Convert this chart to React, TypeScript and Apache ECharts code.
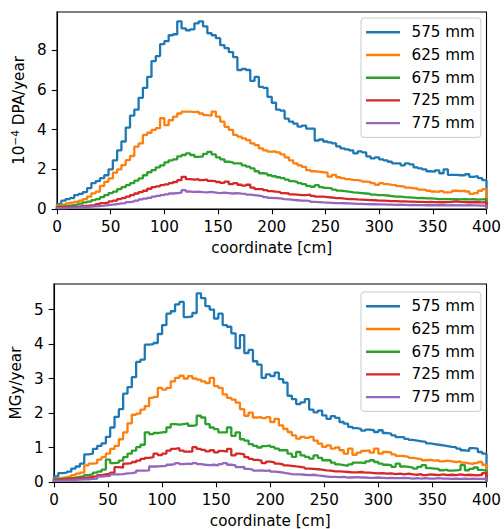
import React, { useEffect, useRef } from "react";
import * as echarts from "echarts";

const BIN_WIDTH = 4;
const X_MIN = 0;
const X_MAX = 400;
const seriesNames = ["575 mm", "625 mm", "675 mm", "725 mm", "775 mm"];
const colors = ["#1f77b4", "#ff7f0e", "#2ca02c", "#d62728", "#9467bd"];
const xTicks = [0, 50, 100, 150, 200, 250, 300, 350, 400];
const dpaTicks = [0, 2, 4, 6, 8];
const mgyTicks = [0, 1, 2, 3, 4, 5];
const DPA_MAX = 9.92;
const MGY_MAX = 5.74;

// Top panel: 10^-4 DPA/year, 4 cm bins
const dpa575 = [0.25, 0.42, 0.5, 0.55, 0.7, 0.76, 0.85, 1.05, 1.3, 1.4,
  1.55, 1.7, 2.0, 2.45, 2.95, 3.4, 4.1, 4.7, 5.0, 5.6,
  6.1, 6.65, 7.45, 7.7, 8.3, 8.45, 8.75, 8.8, 9.45, 9.1,
  9.0, 9.05, 9.35, 9.45, 9.2, 8.85, 8.75, 8.6, 8.25, 8.1,
  7.9, 7.65, 7.0, 7.05, 7.0, 6.45, 6.65, 6.15, 6.1, 5.65,
  5.35, 5.0, 4.95, 4.55, 4.4, 4.3, 4.15, 4.2, 4.05, 4.05,
  3.45, 3.5, 3.4, 3.35, 3.3, 3.15, 3.05, 3.0, 2.95, 2.8,
  2.9, 2.85, 2.65, 2.55, 2.6, 2.5, 2.45, 2.38, 2.3, 2.3,
  2.2, 2.3, 2.25, 2.1, 2.05, 2.0, 1.9, 1.88, 1.95, 1.8,
  2.0, 1.72, 1.72, 1.7, 1.7, 1.75, 1.62, 1.65, 1.55, 1.45];
const dpa625 = [0.18, 0.22, 0.28, 0.32, 0.36, 0.42, 0.5, 0.62, 0.79, 0.87,
  1.16, 1.37, 1.54, 1.83, 2.0, 2.21, 2.46, 2.67, 3.14, 3.3,
  3.73, 3.84, 3.98, 4.07, 4.57, 4.22, 4.47, 4.65, 4.81, 4.9,
  4.9, 4.88, 4.9, 4.81, 4.73, 4.7, 4.9, 4.65, 4.4, 4.14,
  3.98, 3.73, 3.64, 3.56, 3.47, 3.3, 3.22, 3.05, 2.95, 2.89,
  2.9, 2.85, 2.75, 2.6, 2.45, 2.3, 2.2, 2.12, 1.96, 1.9,
  1.88, 1.85, 1.83, 1.63, 1.72, 1.6, 1.55, 1.5, 1.47, 1.45,
  1.42, 1.38, 1.36, 1.3, 1.22, 1.3, 1.25, 1.22, 1.2, 1.15,
  1.12, 1.08, 1.05, 1.02, 0.98, 0.96, 0.92, 0.88, 0.86, 0.9,
  0.84, 0.85, 0.92, 0.9, 0.93, 0.88, 0.76, 0.8, 0.92, 1.0];
const dpa675 = [0.12, 0.15, 0.17, 0.2, 0.23, 0.27, 0.33, 0.37, 0.45, 0.5,
  0.6, 0.7, 0.8, 0.87, 1.0, 1.1, 1.2, 1.3, 1.43, 1.54,
  1.7, 1.85, 1.96, 2.1, 2.2, 2.35, 2.45, 2.5, 2.65, 2.72,
  2.8, 2.72, 2.62, 2.65, 2.78, 2.88, 2.75, 2.6, 2.5, 2.38,
  2.35, 2.3, 2.3, 2.2, 2.13, 2.05, 1.9, 1.8, 1.78, 1.7,
  1.65, 1.6, 1.55, 1.48, 1.4, 1.37, 1.3, 1.25, 1.16, 1.12,
  1.2, 1.1, 1.06, 1.04, 0.98, 0.93, 0.9, 0.87, 0.84, 0.82,
  0.8, 0.78, 0.76, 0.72, 0.7, 0.7, 0.68, 0.65, 0.62, 0.62,
  0.6, 0.59, 0.57, 0.55, 0.56, 0.53, 0.54, 0.52, 0.5, 0.5,
  0.5, 0.49, 0.5, 0.48, 0.49, 0.48, 0.49, 0.47, 0.48, 0.49];
const dpa725 = [0.08, 0.09, 0.1, 0.11, 0.12, 0.14, 0.16, 0.18, 0.2, 0.25,
  0.3, 0.32, 0.38, 0.42, 0.5, 0.55, 0.62, 0.7, 0.78, 0.85,
  0.92, 1.02, 1.1, 1.14, 1.2, 1.24, 1.3, 1.36, 1.45, 1.62,
  1.5, 1.48, 1.5, 1.45, 1.48, 1.42, 1.4, 1.36, 1.32, 1.38,
  1.25, 1.3, 1.22, 1.18, 1.22, 1.08, 1.0, 1.0, 0.95, 0.9,
  0.87, 0.85, 0.8, 0.78, 0.74, 0.72, 0.7, 0.7, 0.72, 0.66,
  0.62, 0.62, 0.6, 0.58, 0.55, 0.55, 0.52, 0.5, 0.5, 0.48,
  0.47, 0.46, 0.45, 0.44, 0.42, 0.42, 0.41, 0.4, 0.4, 0.38,
  0.38, 0.37, 0.37, 0.36, 0.36, 0.35, 0.36, 0.35, 0.34, 0.34,
  0.35, 0.36, 0.38, 0.36, 0.35, 0.34, 0.35, 0.34, 0.33, 0.35];
const dpa775 = [0.04, 0.05, 0.06, 0.07, 0.08, 0.09, 0.1, 0.12, 0.13, 0.15,
  0.17, 0.2, 0.22, 0.25, 0.28, 0.3, 0.35, 0.38, 0.42, 0.48,
  0.52, 0.56, 0.62, 0.66, 0.7, 0.74, 0.78, 0.8, 0.82, 0.95,
  0.88, 0.86, 0.88, 0.85, 0.84, 0.86, 0.83, 0.8, 0.82, 0.8,
  0.78, 0.8, 0.77, 0.76, 0.72, 0.7, 0.67, 0.64, 0.6, 0.56,
  0.55, 0.53, 0.5, 0.48, 0.46, 0.44, 0.42, 0.42, 0.4, 0.36,
  0.35, 0.33, 0.32, 0.31, 0.3, 0.3, 0.29, 0.28, 0.27, 0.26,
  0.26, 0.25, 0.24, 0.24, 0.23, 0.23, 0.22, 0.22, 0.21, 0.22,
  0.21, 0.2, 0.21, 0.2, 0.2, 0.19, 0.2, 0.19, 0.2, 0.19,
  0.18, 0.19, 0.18, 0.19, 0.18, 0.19, 0.18, 0.18, 0.17, 0.18];

// Bottom panel: MGy/year, 4 cm bins
const mgy575 = [0.16, 0.26, 0.27, 0.3, 0.39, 0.45, 0.53, 0.8, 0.82, 0.96,
  1.05, 1.12, 1.31, 1.58, 1.89, 2.11, 2.56, 2.75, 3.04, 3.48,
  3.55, 3.98, 4.0, 4.03, 4.29, 4.55, 4.88, 4.95, 5.15, 5.22,
  4.78, 4.8, 4.9, 5.47, 5.33, 5.1, 5.0, 4.74, 4.88, 4.55,
  4.5, 4.31, 3.88, 4.26, 3.74, 3.83, 3.5, 3.4, 3.02, 3.12,
  3.07, 3.17, 2.98, 2.88, 2.5, 2.4, 2.26, 2.31, 2.4, 2.1,
  2.02, 2.07, 1.93, 1.83, 1.91, 1.86, 1.74, 1.69, 1.6, 1.56,
  1.54, 1.49, 1.52, 1.5, 1.45, 1.5, 1.42, 1.4, 1.35, 1.3,
  1.3, 1.25, 1.22, 1.2, 1.18, 1.16, 1.12, 1.1, 1.08, 1.06,
  1.04, 1.02, 1.01, 0.97, 0.92, 0.9, 0.98, 0.97, 0.87, 0.82];
const mgy625 = [0.1, 0.12, 0.14, 0.16, 0.2, 0.24, 0.27, 0.48, 0.53, 0.55,
  0.65, 0.72, 0.82, 0.96, 1.05, 1.24, 1.44, 1.7, 1.95, 1.98,
  2.1, 2.2, 2.44, 2.47, 2.73, 2.68, 2.73, 2.92, 3.02, 3.08,
  3.0, 3.07, 3.0, 2.97, 2.92, 2.87, 3.02, 2.78, 2.73, 2.54,
  2.44, 2.39, 2.3, 2.11, 1.92, 2.01, 1.87, 1.88, 1.85, 1.88,
  1.74, 1.83, 1.64, 1.54, 1.45, 1.35, 1.26, 1.31, 1.28, 1.31,
  1.2, 1.11, 1.02, 1.06, 0.97, 1.0, 0.92, 0.82, 0.97, 0.79,
  0.85, 0.9, 0.92, 0.85, 0.97, 0.82, 0.87, 0.86, 0.8, 0.76,
  0.75, 0.73, 0.7, 0.68, 0.66, 0.63, 0.64, 0.62, 0.63, 0.6,
  0.62, 0.6, 0.58, 0.6, 0.56, 0.54, 0.52, 0.55, 0.58, 0.5];
const mgy675 = [0.08, 0.09, 0.1, 0.11, 0.13, 0.15, 0.17, 0.2, 0.22, 0.27,
  0.3, 0.36, 0.65, 0.55, 0.56, 0.62, 0.72, 0.82, 0.91, 1.01,
  1.08, 1.44, 1.39, 1.42, 1.44, 1.45, 1.58, 1.68, 1.66, 1.68,
  1.7, 1.63, 1.65, 1.92, 1.87, 1.68, 1.58, 1.53, 1.44, 1.44,
  1.58, 1.34, 1.44, 1.24, 1.2, 1.1, 1.05, 1.0, 1.04, 1.06,
  1.02, 0.97, 0.92, 0.92, 0.82, 0.73, 0.87, 0.77, 0.73, 0.68,
  0.77, 0.7, 0.63, 0.63, 0.56, 0.51, 0.49, 0.47, 0.51, 0.56,
  0.56, 0.55, 0.6, 0.63, 0.58, 0.53, 0.5, 0.49, 0.44, 0.53,
  0.45, 0.44, 0.42, 0.39, 0.44, 0.49, 0.4, 0.39, 0.38, 0.34,
  0.36, 0.33, 0.34, 0.35, 0.49, 0.34, 0.38, 0.42, 0.35, 0.33];
const mgy725 = [0.06, 0.07, 0.08, 0.09, 0.1, 0.11, 0.12, 0.13, 0.15, 0.17,
  0.2, 0.22, 0.24, 0.27, 0.43, 0.42, 0.53, 0.55, 0.58, 0.62,
  0.67, 0.7, 0.72, 0.82, 0.78, 0.82, 0.91, 0.96, 0.98, 0.91,
  0.88, 0.88, 1.01, 0.96, 0.93, 0.89, 0.92, 0.86, 0.9, 0.88,
  0.96, 0.77, 0.82, 0.8, 0.72, 0.67, 0.64, 0.62, 0.55, 0.59,
  0.57, 0.53, 0.51, 0.48, 0.47, 0.45, 0.44, 0.42, 0.39, 0.38,
  0.37, 0.36, 0.34, 0.33, 0.31, 0.31, 0.3, 0.29, 0.28, 0.28,
  0.29, 0.27, 0.27, 0.26, 0.25, 0.26, 0.24, 0.25, 0.23, 0.24,
  0.22, 0.24, 0.22, 0.21, 0.23, 0.2, 0.22, 0.21, 0.2, 0.22,
  0.2, 0.21, 0.2, 0.22, 0.2, 0.21, 0.2, 0.19, 0.21, 0.26];
const mgy775 = [0.04, 0.04, 0.05, 0.05, 0.06, 0.07, 0.08, 0.08, 0.09, 0.1,
  0.16, 0.17, 0.18, 0.22, 0.22, 0.23, 0.25, 0.26, 0.28, 0.33,
  0.33, 0.34, 0.45, 0.45, 0.46, 0.47, 0.5, 0.52, 0.55, 0.52,
  0.53, 0.52, 0.55, 0.52, 0.5, 0.49, 0.5, 0.48, 0.52, 0.55,
  0.5, 0.48, 0.43, 0.44, 0.38, 0.36, 0.33, 0.34, 0.32, 0.34,
  0.3, 0.29, 0.27, 0.25, 0.23, 0.22, 0.22, 0.21, 0.2, 0.21,
  0.19, 0.18, 0.16, 0.15, 0.15, 0.14, 0.15, 0.13, 0.13, 0.14,
  0.13, 0.13, 0.12, 0.12, 0.13, 0.12, 0.11, 0.12, 0.11, 0.11,
  0.12, 0.11, 0.1, 0.11, 0.1, 0.11, 0.1, 0.1, 0.11, 0.1,
  0.1, 0.09, 0.1, 0.09, 0.1, 0.09, 0.1, 0.09, 0.09, 0.1];

const dpaSeries = [dpa575, dpa625, dpa675, dpa725, dpa775];
const mgySeries = [mgy575, mgy625, mgy675, mgy725, mgy775];

const FONT = "DejaVu Sans";
const FS = 15.2;
const LW = 2.3;
const TICK_LEN = 5.3;

function stepData(vals: number[]): number[][] {
  const pts: number[][] = [[0, 0]];
  vals.forEach((v, i) => pts.push([i * BIN_WIDTH, v]));
  pts.push([vals.length * BIN_WIDTH, vals[vals.length - 1]]);
  pts.push([vals.length * BIN_WIDTH, 0]);
  return pts;
}

const textBase = { color: "#000", fontFamily: FONT, fontSize: FS };

function xAxisCfg(gridIndex: number) {
  return {
    type: "value",
    gridIndex,
    min: X_MIN,
    max: X_MAX,
    interval: 50,
    name: "coordinate [cm]",
    nameLocation: "middle",
    nameGap: 31,
    nameTextStyle: { ...textBase },
    axisLine: { show: true, lineStyle: { color: "#000", width: 1.1 } },
    axisTick: { show: true, inside: false, length: TICK_LEN, lineStyle: { color: "#000", width: 1.1 }, customValues: xTicks },
    axisLabel: { ...textBase, margin: 10.4, customValues: xTicks },
    splitLine: { show: false },
  };
}

function yAxisCfg(gridIndex: number, max: number, ticks: number[], name: string, rich?: any, nameGap = 30) {
  return {
    type: "value",
    gridIndex,
    min: 0,
    max,
    name,
    nameLocation: "middle",
    nameRotate: 90,
    nameGap,
    nameTextStyle: { ...textBase, rich },
    axisLine: { show: true, lineStyle: { color: "#000", width: 1.1 } },
    axisTick: { show: true, inside: false, length: TICK_LEN, lineStyle: { color: "#000", width: 1.1 }, customValues: ticks },
    axisLabel: { ...textBase, margin: 10.4, customValues: ticks },
    splitLine: { show: false },
  };
}

function legendCfg(top: number) {
  return {
    data: seriesNames,
    orient: "vertical",
    left: 361,
    top,
    icon: "rect",
    itemWidth: 34,
    itemHeight: 2.4,
    itemGap: 5.7,
    padding: [5.8, 6, 5.8, 5],
    borderColor: "#cccccc",
    borderWidth: 1,
    borderRadius: 3,
    backgroundColor: "rgba(255,255,255,0.8)",
    selectedMode: false,
    textStyle: { ...textBase, lineHeight: 17, padding: [0, 0, 0, 6.5] },
  };
}

const option: any = {
  animation: false,
  backgroundColor: "#fff",
  textStyle: { fontFamily: FONT },
  grid: [
    { left: 57, right: 15, top: 12, height: 197, show: true, borderColor: "#000", borderWidth: 1.1, backgroundColor: "transparent" },
    { left: 53, right: 15, top: 284, height: 200, show: true, borderColor: "#000", borderWidth: 1.1, backgroundColor: "transparent" },
  ],
  legend: [legendCfg(18), legendCfg(292)],
  xAxis: [xAxisCfg(0), xAxisCfg(1)],
  yAxis: [
    yAxisCfg(0, DPA_MAX, dpaTicks, "{b|10}{s|−4}{b| DPA/year}", {
      b: { fontSize: FS, fontFamily: FONT, color: "#000", lineHeight: 19 },
      s: { fontSize: 10.6, fontFamily: FONT, color: "#000", verticalAlign: "top", lineHeight: 19 },
    }, 26),
    yAxisCfg(1, MGY_MAX, mgyTicks, "MGy/year", undefined, 26),
  ],
  series: [
    ...dpaSeries.map((vals, i) => ({
      name: seriesNames[i],
      type: "line",
      step: "end",
      xAxisIndex: 0,
      yAxisIndex: 0,
      data: stepData(vals),
      showSymbol: false,
      symbol: "none",
      lineStyle: { color: colors[i], width: LW },
      itemStyle: { color: colors[i] },
    })),
    ...mgySeries.map((vals, i) => ({
      name: seriesNames[i],
      type: "line",
      step: "end",
      xAxisIndex: 1,
      yAxisIndex: 1,
      data: stepData(vals),
      showSymbol: false,
      symbol: "none",
      lineStyle: { color: colors[i], width: LW },
      itemStyle: { color: colors[i] },
    })),
  ],
};

export default function App() {
  const ref = useRef<HTMLDivElement>(null);
  useEffect(() => {
    if (!ref.current) return;
    const chart = echarts.init(ref.current, null, { renderer: "svg" });
    chart.setOption(option);
    return () => chart.dispose();
  }, []);
  return (
    <div
      ref={ref}
      style={{ position: "absolute", left: 0, top: 0, width: 504, height: 529, background: "#fff" }}
    />
  );
}
